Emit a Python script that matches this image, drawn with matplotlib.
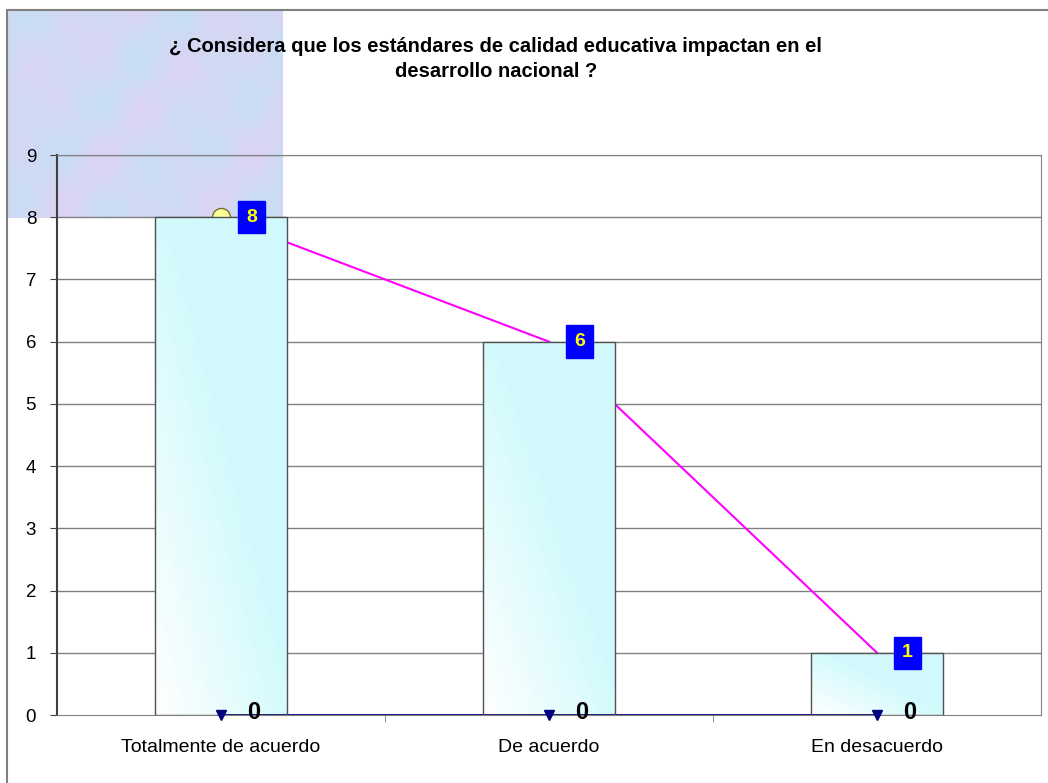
import numpy as np
import matplotlib
matplotlib.use("Agg")
import matplotlib.pyplot as plt
from matplotlib.patches import Rectangle

plt.rcParams['font.family'] = ['Liberation Sans', 'DejaVu Sans']

# Datos
categorias = ['Totalmente de acuerdo', 'De acuerdo', 'En desacuerdo']
respuestas = [8, 6, 1]
ceros = [0, 0, 0]
titulo = '¿ Considera que los estándares de calidad educativa impactan en el\ndesarrollo nacional ?'

fig = plt.figure(figsize=(10.48, 7.83), dpi=100)

# Fondo con textura (parche arriba a la izquierda)
bg = fig.add_axes([7 / 1048, 1 - 218 / 783, 275 / 1048, 208 / 783])
yy, xx = np.mgrid[0:120, 0:160]
patron = (np.sin(xx / 7.0) * np.cos(yy / 9.0) + np.sin((xx + yy) / 13.0)) / 2
azul = np.array([0.78, 0.87, 0.96])
rosa = np.array([0.86, 0.83, 0.95])
t = (patron[..., None] + 1) / 2
bg.imshow(azul * t + rosa * (1 - t), aspect='auto', interpolation='bicubic')
bg.axis('off')

# Marco exterior
fig.patches.append(Rectangle((7 / 1048, -0.1), 1.2, 1 - 10 / 783 + 0.1,
                             transform=fig.transFigure, fill=False,
                             edgecolor='#808080', linewidth=1.5))

ax = fig.add_axes([57 / 1048, 68 / 783, (1041 - 57) / 1048, (715 - 155) / 783])
ax.patch.set_alpha(0)
x = np.arange(len(categorias))

# Lineas de cuadricula
for v in range(1, 10):
    ax.axhline(v, color='#808080', linewidth=1, zorder=1)

# Serie de linea (detras de las barras)
ax.plot(x, respuestas, color='#ff00ff', linewidth=1.5, zorder=2)
ax.plot(x[0], respuestas[0], 'o', color='#ffff99', markeredgecolor='#707030',
        markersize=13, zorder=2)

# Barras con degradado
barras = ax.bar(x, respuestas, width=0.4, color='none', edgecolor='#505050',
                linewidth=1, zorder=4)
grad = np.linspace(0, 1, 64)
g = np.clip((grad[None, :] + grad[:, None]) / 1.1, 0, 1)
blanco = np.array([1.0, 1.0, 1.0])
cian = np.array([0.82, 0.98, 0.99])
img = blanco * (1 - g[..., None]) + cian * g[..., None]
for b in barras:
    im = ax.imshow(img, extent=[b.get_x(), b.get_x() + b.get_width(), 0, b.get_height()],
                   origin='lower', aspect='auto', zorder=3)
    im.set_clip_path(b)

# Serie de ceros
ax.plot(x, ceros, color='#000080', linewidth=2, zorder=3.5)
ax.plot(x, ceros, 'v', color='#000080', markersize=7, zorder=5, clip_on=False)
for i, v in enumerate(ceros):
    ax.text(x[i] + 0.1, v + 0.04, str(v), fontsize=17, fontweight='bold',
            ha='center', va='center', zorder=6, clip_on=False)

# Etiquetas de datos
for i, v in enumerate(respuestas):
    ax.text(x[i] + 0.093, v, str(v), fontsize=14, fontweight='bold', color='#ffff00',
            ha='center', va='center', zorder=6,
            bbox=dict(boxstyle='square,pad=0.4', facecolor='#0000ff', edgecolor='#0000ff'))

ax.set_xlim(-0.5, 2.5)
ax.set_ylim(0, 9)
ax.set_yticks(range(0, 10))
ax.set_xticks(x)
ax.set_xticklabels(categorias, fontsize=14)
ax.tick_params(axis='y', labelsize=13.5, length=5, color='#404040', pad=10)
ax.tick_params(axis='x', length=0, pad=17)
ax.set_xticks([0.5, 1.5], minor=True)
ax.tick_params(axis='x', which='minor', length=5, color='#808080', direction='out')

for lado in ['top', 'right', 'bottom']:
    ax.spines[lado].set_color('#808080')
ax.spines['left'].set_color('#404040')
ax.spines['left'].set_linewidth(1.5)

fig.text(0.473, 1 - 59 / 783, titulo, ha='center', va='center', fontsize=14.5,
         fontweight='bold', linespacing=1.45)

fig.savefig('out.png', dpi=100)
